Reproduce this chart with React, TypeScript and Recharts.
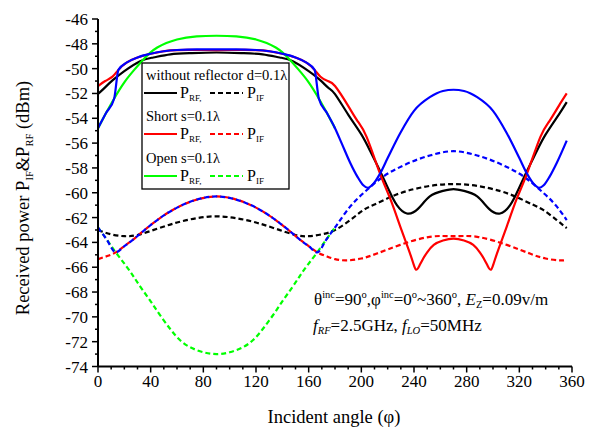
import { LineChart, Line, XAxis, YAxis } from "recharts";

const serif = "'Liberation Serif', 'Times New Roman', serif";

const angleTicks = [0, 10, 20, 30, 40, 50, 60, 70, 80, 90, 100, 110, 120, 130, 140, 150, 160, 170, 180, 190, 200, 210, 220, 230, 240, 250, 260, 270, 280, 290, 300, 310, 320, 330, 340, 350, 360];
const powerTicks = [-74, -73, -72, -71, -70, -69, -68, -67, -66, -65, -64, -63, -62, -61, -60, -59, -58, -57, -56, -55, -54, -53, -52, -51, -50, -49, -48, -47, -46];

// without reflector d=0.1λ
const noRefRfAngle = [0, 5, 11, 20, 32, 42, 55, 70, 90, 110, 125, 138, 148, 160, 169, 175, 180, 190, 200, 207, 214, 221, 227, 234.6, 243, 252, 262, 270, 278, 288, 297, 305.4, 313, 319, 326, 333, 340, 350, 356];
const noRefRfPower = [-52.05, -51.55, -50.95, -50.2, -49.4, -49.1, -48.85, -48.75, -48.7, -48.75, -48.85, -49.1, -49.4, -50.2, -50.95, -51.55, -52.05, -53.7, -55.3, -56.7, -58.2, -59.8, -61.0, -61.67, -61.3, -60.3, -59.85, -59.7, -59.85, -60.3, -61.3, -61.67, -61.0, -59.8, -58.2, -56.7, -55.3, -53.7, -52.7];
const noRefIfAngle = [0, 10, 20, 30, 45, 60, 75, 90, 105, 120, 135, 150, 160, 170, 180, 191.6, 201.5, 210, 222, 235, 252, 270, 288, 305, 318, 330, 338.4, 348.4, 356];
const noRefIfPower = [-63.0, -63.35, -63.5, -63.4, -62.9, -62.4, -62.05, -61.9, -62.05, -62.4, -62.9, -63.4, -63.5, -63.35, -63.0, -62.2, -61.4, -60.95, -60.35, -59.85, -59.45, -59.3, -59.45, -59.85, -60.35, -60.95, -61.4, -62.2, -62.85];

// Short s=0.1λ
const shortRfAngle = [0, 5.5, 11, 15.5, 22, 30, 40, 50, 60, 90, 120, 130, 140, 150, 158, 164.5, 169, 174.5, 180, 190, 197, 204, 214, 222, 229.5, 236, 239.5, 241.6, 244, 247, 250, 255, 262, 270, 278, 285, 290, 293, 296, 298.4, 300.5, 304, 310.5, 318, 326, 336, 343, 350, 356];
const shortRfPower = [-51.4, -51.0, -50.65, -50.1, -49.5, -49.1, -48.8, -48.6, -48.5, -48.5, -48.5, -48.6, -48.8, -49.1, -49.5, -50.1, -50.65, -51.0, -51.4, -53.0, -54.2, -55.5, -58.4, -60.5, -62.7, -64.6, -65.7, -66.2, -65.9, -65.3, -64.8, -64.2, -63.85, -63.7, -63.85, -64.2, -64.8, -65.3, -65.9, -66.2, -65.7, -64.6, -62.7, -60.5, -58.4, -55.5, -54.2, -53.0, -52.0];
const shortIfAngle = [0, 7, 13.5, 20, 26.4, 32, 45, 60, 75, 90, 105, 120, 135, 148, 153.6, 160, 166.5, 173, 180, 189, 200, 211.8, 229.5, 252, 270, 288, 310.5, 328, 340, 351, 356];
const shortIfPower = [-65.35, -65.1, -64.8, -64.3, -63.8, -63.3, -62.2, -61.2, -60.55, -60.3, -60.55, -61.2, -62.2, -63.3, -63.8, -64.3, -64.8, -65.1, -65.35, -65.45, -65.3, -64.9, -64.2, -63.55, -63.5, -63.55, -64.2, -64.9, -65.3, -65.45, -65.4];

// Open s=0.1λ
const openRfAngle = [0, 6, 12.3, 20, 27.5, 35, 45, 60, 75, 90, 105, 120, 135, 145, 152.5, 160, 167.7, 174, 180];
const openRfPower = [-54.8, -53.6, -52.4, -51.1, -50.1, -49.2, -48.3, -47.65, -47.4, -47.35, -47.4, -47.65, -48.3, -49.2, -50.1, -51.1, -52.4, -53.6, -54.8];
const openIfAngle = [0, 6.5, 13.5, 21, 27, 33, 40, 47, 55, 62, 70, 80, 90, 100, 110, 118, 125, 133, 140, 147, 153, 159, 166.5, 173.5, 180];
const openIfPower = [-62.8, -63.75, -64.8, -65.85, -66.75, -67.7, -68.75, -69.85, -71.0, -71.85, -72.45, -72.85, -73.0, -72.85, -72.45, -71.85, -71.0, -69.85, -68.75, -67.7, -66.75, -65.85, -64.8, -63.75, -62.8];

// blue pair (not in legend)
const blueRfAngle = [0, 6, 12.3, 15.5, 22, 30, 40, 50, 60, 75, 90, 105, 120, 130, 140, 150, 158, 164.5, 167.7, 174, 180, 185, 191.6, 197, 201.5, 205, 209, 214, 220, 229.5, 240, 252, 262, 270, 278, 288, 300, 310.5, 320, 326, 331, 335, 338.5, 343, 348.4, 356];
const blueRfPower = [-54.8, -53.6, -52.4, -50.1, -49.5, -49.1, -48.8, -48.6, -48.5, -48.45, -48.45, -48.45, -48.5, -48.6, -48.8, -49.1, -49.5, -50.1, -52.4, -53.6, -54.8, -56.0, -57.6, -58.7, -59.4, -59.6, -59.3, -58.5, -57.2, -55.2, -53.4, -52.3, -51.8, -51.7, -51.8, -52.3, -53.4, -55.2, -57.2, -58.5, -59.3, -59.6, -59.4, -58.7, -57.6, -55.8];
const blueIfAngle = [0, 6.5, 13.5, 20, 26.4, 32, 45, 60, 75, 90, 105, 120, 135, 148, 153.6, 160, 166.5, 173.5, 180, 191.6, 204, 216.6, 232, 252, 270, 288, 308, 323.4, 336, 348.4, 356];
const blueIfPower = [-62.8, -63.75, -64.8, -64.3, -63.8, -63.3, -62.2, -61.2, -60.55, -60.3, -60.55, -61.2, -62.2, -63.3, -63.8, -64.3, -64.8, -63.75, -62.8, -61.1, -59.8, -58.7, -57.8, -57.0, -56.65, -57.0, -57.8, -58.7, -59.8, -61.1, -62.2];

const pts = (a: number[], p: number[]) => a.map((v, i) => ({ a: v, p: p[i] }));

const series = [
  { key: "noRefIf", data: pts(noRefIfAngle, noRefIfPower), color: "#000000", dash: "5 3", curve: "natural" },
  { key: "shortIf", data: pts(shortIfAngle, shortIfPower), color: "#ff0000", dash: "5 3", curve: "natural" },
  { key: "openIf", data: pts(openIfAngle, openIfPower), color: "#00ff00", dash: "5 3", curve: "natural" },
  { key: "blueIf", data: pts(blueIfAngle, blueIfPower), color: "#0000ff", dash: "5 3", curve: "monotone" },
  { key: "noRefRf", data: pts(noRefRfAngle, noRefRfPower), color: "#000000", curve: "natural" },
  { key: "shortRf", data: pts(shortRfAngle, shortRfPower), color: "#ff0000", curve: "natural" },
  { key: "openRf", data: pts(openRfAngle, openRfPower), color: "#00ff00", curve: "natural" },
  { key: "blueRf", data: pts(blueRfAngle, blueRfPower), color: "#0000ff", curve: "monotone" },
];

const tickFont = { fontFamily: serif, fontSize: 17 };

const BottomTick = ({ x, y, payload }: any) => {
  const major = payload.value % 40 === 0;
  return (
    <g>
      <line x1={x} x2={x} y1={y} y2={y + (major ? 6 : 3)} stroke="#000" strokeWidth={1.5} />
      {major && (
        <text x={x} y={y + 20} textAnchor="middle" style={tickFont} fill="#000">
          {payload.value}
        </text>
      )}
    </g>
  );
};

const TopTick = ({ x, y, payload }: any) => {
  const major = payload.value % 40 === 0;
  return <line x1={x} x2={x} y1={y} y2={y + (major ? 6 : 3)} stroke="#000" strokeWidth={1.5} />;
};

const LeftTick = ({ x, y, payload }: any) => {
  const major = Math.abs(payload.value) % 2 === 0;
  return (
    <g>
      <line x1={x} x2={x - (major ? 6 : 3)} y1={y} y2={y} stroke="#000" strokeWidth={1.5} />
      {major && (
        <text x={x - 10} y={y + 6} textAnchor="end" style={tickFont} fill="#000">
          {payload.value}
        </text>
      )}
    </g>
  );
};

const RightTick = ({ x, y, payload }: any) => {
  const major = Math.abs(payload.value) % 2 === 0;
  return <line x1={x} x2={x - (major ? 6 : 3)} y1={y} y2={y} stroke="#000" strokeWidth={1.5} />;
};

const axisLine = { stroke: "#000", strokeWidth: 2 };

function LegendRow({ y, color }: { y: number; color: string }) {
  return (
    <g>
      <line x1={144} x2={177} y1={y} y2={y} stroke={color} strokeWidth={2.2} />
      <text x={180} y={y + 5} fontSize={16}>
        P<tspan fontSize={9} dy={3}>RF,</tspan>
      </text>
      <line x1={210} x2={243} y1={y} y2={y} stroke={color} strokeWidth={2.2} strokeDasharray="5 3" />
      <text x={247} y={y + 5} fontSize={16}>
        P<tspan fontSize={9} dy={3}>IF</tspan>
      </text>
    </g>
  );
}

export default function App() {
  return (
    <div style={{ position: "absolute", left: 0, top: 0, width: 589, height: 434, background: "#fff", fontFamily: serif }}>
      <LineChart width={589} height={434} margin={{ top: 19, right: 17, bottom: 0, left: 0 }}>
        <XAxis
          xAxisId="b"
          dataKey="a"
          type="number"
          domain={[0, 360]}
          ticks={angleTicks}
          interval={0}
          height={67.5}
          tickSize={0}
          tickMargin={0}
          tickLine={false}
          axisLine={axisLine}
          tick={<BottomTick />}
          allowDataOverflow
        />
        <XAxis
          xAxisId="t"
          orientation="top"
          dataKey="a"
          type="number"
          domain={[0, 360]}
          ticks={angleTicks}
          interval={0}
          height={0}
          tickSize={0}
          tickMargin={0}
          tickLine={false}
          axisLine={axisLine}
          tick={<TopTick />}
          allowDataOverflow
        />
        <YAxis
          yAxisId="l"
          type="number"
          domain={[-74, -46]}
          ticks={powerTicks}
          interval={0}
          width={98}
          tickSize={0}
          tickMargin={0}
          tickLine={false}
          axisLine={axisLine}
          tick={<LeftTick />}
          allowDataOverflow
        />
        <YAxis
          yAxisId="r"
          orientation="right"
          type="number"
          domain={[-74, -46]}
          ticks={powerTicks}
          interval={0}
          width={0}
          tickSize={0}
          tickMargin={0}
          tickLine={false}
          axisLine={axisLine}
          tick={<RightTick />}
          allowDataOverflow
        />
        {series.map((s) => (
          <Line
            key={s.key}
            xAxisId="b"
            yAxisId="l"
            data={s.data}
            dataKey="p"
            type={s.curve as any}
            stroke={s.color}
            strokeWidth={2.2}
            strokeDasharray={s.dash}
            dot={false}
            activeDot={false}
            isAnimationActive={false}
          />
        ))}
      </LineChart>
      <svg
        width={589}
        height={434}
        style={{ position: "absolute", left: 0, top: 0, pointerEvents: "none", fontFamily: serif }}
        fill="#000"
      >
        <rect x={142} y={63} width={147} height={126} fill="#fff" stroke="#000" strokeWidth={1.3} />
        <text x={146} y={80} fontSize={14.5}>without reflector d=0.1λ</text>
        <LegendRow y={93} color="#000000" />
        <text x={146} y={121} fontSize={14.5}>Short s=0.1λ</text>
        <LegendRow y={134} color="#ff0000" />
        <text x={146} y={163} fontSize={14.5}>Open s=0.1λ</text>
        <LegendRow y={176} color="#00ff00" />

        <text x={314} y={305} fontSize={17}>
          θ<tspan fontSize={10.5} dy={-7}>inc</tspan>
          <tspan dy={7}>=90</tspan>
          <tspan fontSize={10.5} dy={-7}>o</tspan>
          <tspan dy={7}>,φ</tspan>
          <tspan fontSize={10.5} dy={-7}>inc</tspan>
          <tspan dy={7}>=0</tspan>
          <tspan fontSize={10.5} dy={-7}>o</tspan>
          <tspan dy={7}>~360</tspan>
          <tspan fontSize={10.5} dy={-7}>o</tspan>
          <tspan dy={7}>, </tspan>
          <tspan fontStyle="italic">E</tspan>
          <tspan fontSize={10.5} dy={3}>Z</tspan>
          <tspan dy={-3}>=0.09v/m</tspan>
        </text>
        <text x={313} y={331} fontSize={17}>
          <tspan fontStyle="italic">f</tspan>
          <tspan fontSize={10.5} dy={3} fontStyle="italic">RF</tspan>
          <tspan dy={-3}>=2.5GHz, </tspan>
          <tspan fontStyle="italic">f</tspan>
          <tspan fontSize={10.5} dy={3} fontStyle="italic">LO</tspan>
          <tspan dy={-3}>=50MHz</tspan>
        </text>

        <text x={334} y={423} fontSize={18.5} textAnchor="middle">Incident angle (φ)</text>
        <text transform="translate(29,198) rotate(-90)" fontSize={18.5} textAnchor="middle">
          Received power P<tspan fontSize={10.5} dy={4}>IF</tspan>
          <tspan dy={-4}>&amp;P</tspan>
          <tspan fontSize={10.5} dy={4}>RF</tspan>
          <tspan dy={-4}> (dBm)</tspan>
        </text>
      </svg>
    </div>
  );
}
